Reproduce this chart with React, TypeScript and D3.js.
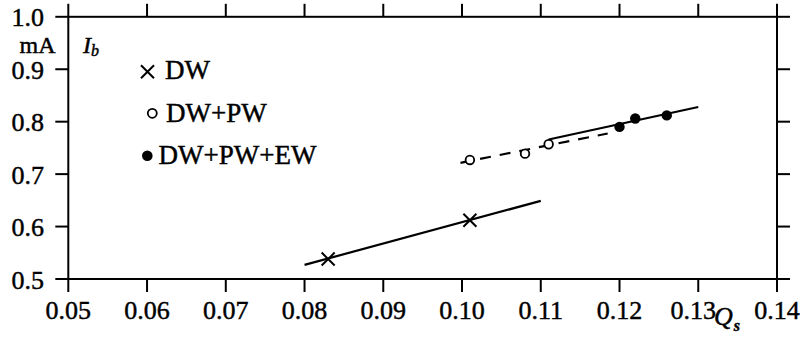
import React from "react";
import * as d3 from "d3";

const xTicks = [0.05, 0.06, 0.07, 0.08, 0.09, 0.1, 0.11, 0.12, 0.13, 0.14];
const xTickLabels = ["0.05", "0.06", "0.07", "0.08", "0.09", "0.10", "0.11", "0.12", "0.13", "0.14"];
const yTicks = [0.5, 0.6, 0.7, 0.8, 0.9, 1.0];
const yTickLabels = ["0.5", "0.6", "0.7", "0.8", "0.9", "1.0"];

const dwX = [0.083, 0.101];
const dwY = [0.538, 0.612];
const dwLineX = [0.08, 0.11];
const dwLineY = [0.527, 0.649];

const pwX = [0.101, 0.108, 0.111];
const pwY = [0.727, 0.739, 0.757];
const pwLineX = [0.0998, 0.1185];
const pwLineY = [0.7215, 0.7775];

const ewX = [0.12, 0.122, 0.126];
const ewY = [0.79, 0.806, 0.812];
const ewLineX = [0.111, 0.13];
const ewLineY = [0.766, 0.828];

const legendLabels = ["DW", "DW+PW", "DW+PW+EW"];

const W = 803;
const H = 338;
const L = 68.3, R = 777, T = 16.8, B = 279;
const TICK = 13;
const FONT = "Liberation Serif";

export default function App() {
  const x = d3.scaleLinear().domain([0.05, 0.14]).range([L, R]);
  const y = d3.scaleLinear().domain([0.5, 1.0]).range([B, T]);
  const line = d3.line<[number, number]>().x((d) => x(d[0])).y((d) => y(d[1]));
  const zip = (a: number[], b: number[]) => a.map((v, i) => [v, b[i]] as [number, number]);

  const cross = (cx: number, cy: number, s: number, key: string) => (
    <path key={key} d={`M${cx - s},${cy - s}L${cx + s},${cy + s}M${cx - s},${cy + s}L${cx + s},${cy - s}`} stroke="#000" strokeWidth={2} />
  );
  const ts = { fontFamily: FONT, stroke: "#000", strokeWidth: 0.45 } as React.CSSProperties;

  return (
    <svg width={W} height={H} style={{ position: "absolute", left: 0, top: 0, background: "#fff", fontFamily: FONT }}>
      <rect x={0} y={0} width={W} height={H} fill="#fff" />
      {/* frame */}
      <g stroke="#000" strokeWidth={2} fill="none">
        <rect x={L} y={T} width={R - L} height={B - T} />
        {xTicks.map((t, i) => (
          <g key={"xt" + i}>
            <line x1={x(t)} x2={x(t)} y1={B} y2={B + TICK} />
            <line x1={x(t)} x2={x(t)} y1={T} y2={T - TICK} />
          </g>
        ))}
        {yTicks.map((t, i) => (
          <g key={"yt" + i}>
            <line x1={L - TICK} x2={L} y1={y(t)} y2={y(t)} />
            <line x1={R} x2={R + TICK} y1={y(t)} y2={y(t)} />
          </g>
        ))}
      </g>
      {/* tick labels */}
      <g fontSize={26} fill="#000">
        {xTicks.map((t, i) => (
          <text key={"xl" + i} x={x(t) - (i === 8 ? 5 : 0)} y={319} textAnchor="middle" style={ts}>
            {xTickLabels[i]}
          </text>
        ))}
        {yTicks.map((t, i) => (
          <text key={"yl" + i} x={44} y={y(t) + 9.5} textAnchor="end" style={ts}>
            {yTickLabels[i]}
          </text>
        ))}
      </g>
      {/* axis titles */}
      <text x={37.5} y={53} fontSize={24} textAnchor="middle" style={ts}>mA</text>
      <text x={83} y={53} fontSize={24} fontStyle="italic" style={ts}>
        I<tspan fontSize={16} dy={3}>b</tspan>
      </text>
      <text x={714} y={325} fontSize={26} fontStyle="italic" style={ts}>
        Q<tspan fontSize={16} dy={6} dx={1} fontWeight="bold">s</tspan>
      </text>
      {/* data lines */}
      <path d={line(zip(dwLineX, dwLineY)) || ""} stroke="#000" strokeWidth={2.2} fill="none" />
      <path d={line(zip(ewLineX, ewLineY)) || ""} stroke="#000" strokeWidth={2.2} fill="none" />
      <path d={line(zip(pwLineX, pwLineY)) || ""} stroke="#000" strokeWidth={2.2} fill="none" strokeDasharray="11,9" />
      {/* markers */}
      {dwX.map((v, i) => cross(x(v), y(dwY[i]), 6.5, "dw" + i))}
      {pwX.map((v, i) => (
        <circle key={"pw" + i} cx={x(v)} cy={y(pwY[i])} r={4.3} fill="#fff" stroke="#000" strokeWidth={1.8} />
      ))}
      {ewX.map((v, i) => (
        <circle key={"ew" + i} cx={x(v)} cy={y(ewY[i])} r={5.2} fill="#000" />
      ))}
      {/* legend */}
      {cross(147.5, 71.7, 6.5, "lg0")}
      <text x={165} y={79} fontSize={27} style={ts}>{legendLabels[0]}</text>
      <circle cx={152.3} cy={113.3} r={4.5} fill="#fff" stroke="#000" strokeWidth={1.8} />
      <text x={166} y={122} fontSize={27} style={ts}>{legendLabels[1]}</text>
      <circle cx={147.3} cy={155.8} r={5.3} fill="#000" />
      <text x={158.5} y={164} fontSize={27} style={ts}>{legendLabels[2]}</text>
    </svg>
  );
}
